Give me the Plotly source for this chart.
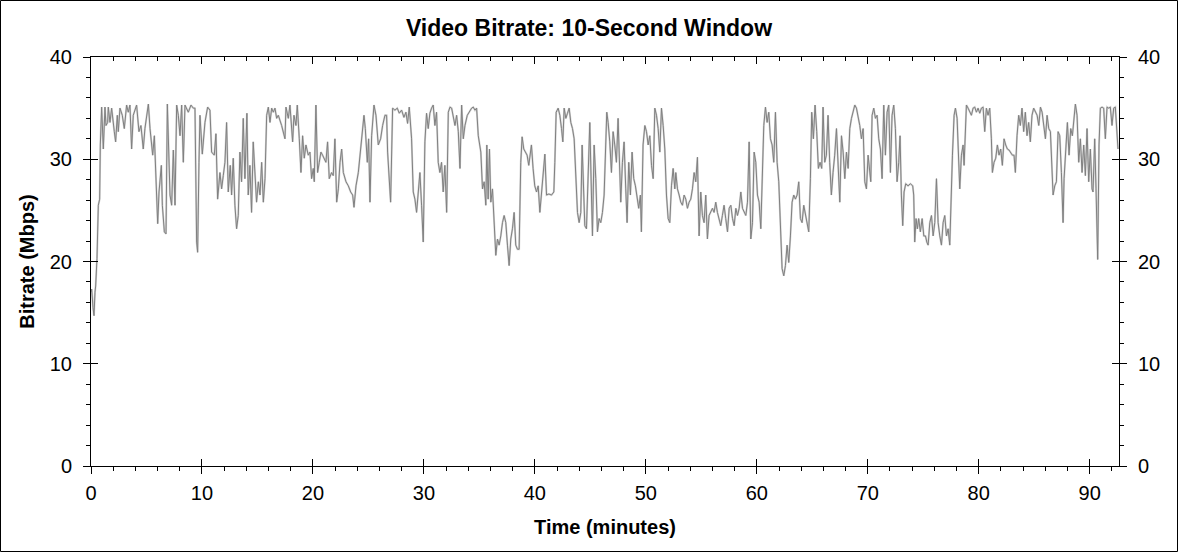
import plotly.graph_objects as go

# ---- data: (time in minutes, bitrate in Mbps) ----
seg_0_17 = [
    (0.0, 17.0), (0.06, 17.3), (0.18, 15.5), (0.27, 14.7), (0.36, 17.0), (0.42, 17.6), (0.54, 20.3),
    (0.60, 22.5), (0.66, 25.5), (0.78, 26.1), (0.84, 31.4), (0.96, 35.1), (1.11, 31.0), (1.26, 35.1),
    (1.35, 33.3), (1.50, 33.6), (1.56, 35.1), (1.71, 33.6), (1.86, 35.0), (2.10, 32.7), (2.22, 31.7),
    (2.37, 34.3), (2.46, 32.7), (2.61, 35.0), (2.82, 34.3), (3.00, 33.0), (3.21, 35.3), (3.36, 34.6),
    (3.51, 35.3), (3.66, 31.0), (3.81, 34.3), (4.11, 35.3), (4.32, 32.7), (4.50, 33.3), (4.71, 31.0),
    (4.86, 33.0), (5.17, 35.4), (5.32, 33.0), (5.56, 30.4), (5.71, 32.3), (5.86, 27.4), (6.01, 23.7),
    (6.13, 26.8), (6.34, 29.4), (6.43, 25.5), (6.61, 22.9), (6.76, 22.7), (6.88, 35.4), (7.12, 26.5),
    (7.27, 25.5), (7.42, 30.9), (7.57, 25.5), (7.72, 35.3), (7.87, 34.3), (8.02, 32.3), (8.17, 35.3),
    (8.32, 29.7), (8.47, 35.3), (8.77, 34.6), (9.01, 35.3), (9.22, 35.0), (9.37, 35.0), (9.52, 21.9),
    (9.61, 20.9), (9.73, 29.7), (9.82, 34.3), (10.03, 30.5), (10.27, 33.6), (10.51, 35.1), (10.72, 34.8),
    (10.87, 30.7), (11.11, 30.4), (11.26, 32.5), (11.41, 26.1), (11.62, 28.7), (11.77, 27.1), (11.92, 28.4),
    (12.07, 29.7), (12.22, 33.6), (12.37, 26.8), (12.55, 29.4), (12.67, 26.5), (12.82, 30.1), (12.97, 25.5),
    (13.12, 23.2), (13.27, 24.5), (13.42, 30.7), (13.57, 27.8), (13.72, 34.0), (13.87, 28.1), (14.05, 34.5),
    (14.17, 26.5), (14.32, 29.4), (14.47, 24.8), (14.62, 31.7), (14.77, 29.1), (14.92, 25.8), (15.08, 27.8),
    (15.23, 26.5), (15.38, 29.7), (15.53, 25.8), (15.68, 28.1), (15.83, 34.3), (15.98, 35.1), (16.13, 33.6),
    (16.28, 35.0), (16.43, 34.6), (16.58, 35.0), (16.73, 34.0), (16.88, 34.3), (17.18, 33.3), (17.48, 32.0),
]

seg_17_35 = [
    (17.57, 35.1), (17.78, 34.0), (17.93, 35.3), (18.17, 31.7), (18.29, 34.3), (18.47, 33.3), (18.59, 35.3),
    (18.77, 32.0), (18.92, 28.7), (19.07, 32.3), (19.22, 30.1), (19.37, 31.4), (19.58, 30.4), (19.73, 30.7),
    (19.88, 28.1), (20.03, 29.1), (20.12, 27.8), (20.27, 35.3), (20.42, 28.7), (20.57, 29.7), (20.72, 30.7),
    (20.87, 30.4), (21.02, 30.1), (21.17, 29.7), (21.32, 31.7), (21.47, 28.1), (21.68, 28.7), (21.83, 28.4),
    (21.98, 32.0), (22.14, 25.8), (22.29, 27.1), (22.44, 29.7), (22.59, 31.0), (22.74, 28.7), (22.98, 27.8),
    (23.19, 27.4), (23.40, 26.8), (23.58, 26.5), (23.70, 25.3), (23.88, 27.4), (24.09, 28.7), (24.30, 31.0),
    (24.48, 33.3), (24.60, 34.3), (24.72, 33.0), (24.90, 29.7), (25.02, 32.0), (25.14, 25.8), (25.29, 32.3),
    (25.50, 35.3), (25.68, 34.3), (25.89, 31.4), (26.10, 32.0), (26.28, 33.3), (26.49, 34.3), (26.64, 34.3),
    (26.73, 30.7), (26.85, 27.8), (27.00, 25.8), (27.18, 35.0), (27.39, 34.8), (27.60, 35.0), (27.78, 34.5),
    (27.99, 34.8), (28.20, 34.1), (28.38, 34.6), (28.53, 33.5), (28.68, 35.1), (28.89, 32.0), (29.04, 26.8),
    (29.19, 26.1), (29.34, 24.8), (29.49, 26.5), (29.64, 28.7), (29.79, 25.5), (29.94, 21.9), (30.09, 31.7),
    (30.24, 34.5), (30.39, 33.0), (30.54, 34.5), (30.69, 35.0), (30.84, 35.3), (30.99, 33.3), (31.14, 34.6),
    (31.29, 29.7), (31.44, 28.7), (31.59, 29.7), (31.74, 26.8), (31.89, 29.4), (32.05, 24.8), (32.20, 34.6),
    (32.35, 35.1), (32.50, 35.0), (32.65, 34.3), (32.80, 33.3), (32.95, 34.3), (33.10, 32.7), (33.25, 29.1),
    (33.40, 35.3), (33.55, 32.0), (33.70, 33.3), (33.91, 34.3), (34.09, 34.6), (34.30, 35.0), (34.45, 35.1),
    (34.60, 34.8), (34.75, 35.0), (34.90, 32.3),
]

seg_35_52 = [
    (35.13, 30.7), (35.28, 27.1), (35.43, 27.8), (35.58, 25.5), (35.67, 31.4), (35.79, 26.1), (35.91, 31.0),
    (36.03, 25.8), (36.18, 27.1), (36.33, 23.2), (36.48, 20.6), (36.63, 22.2), (36.78, 21.6), (36.93, 22.5),
    (37.08, 23.8), (37.23, 24.5), (37.38, 23.8), (37.53, 21.6), (37.68, 19.6), (37.83, 22.2), (37.98, 23.2),
    (38.13, 24.8), (38.28, 21.6), (38.43, 21.2), (38.58, 21.2), (38.73, 29.7), (38.85, 32.2), (39.00, 31.0),
    (39.15, 30.7), (39.30, 30.4), (39.45, 29.4), (39.60, 30.7), (39.69, 31.4), (39.84, 29.1), (39.99, 27.4),
    (40.15, 26.8), (40.30, 27.4), (40.45, 24.8), (40.60, 26.5), (40.75, 28.1), (40.90, 30.5), (41.05, 26.5),
    (41.26, 26.6), (41.50, 26.5), (41.71, 26.8), (41.80, 29.7), (41.92, 34.6), (42.10, 35.0), (42.25, 34.3),
    (42.40, 33.0), (42.52, 31.7), (42.64, 35.0), (42.79, 34.0), (42.94, 34.5), (43.09, 35.0), (43.24, 33.6),
    (43.39, 33.0), (43.54, 32.0), (43.69, 27.8), (43.84, 24.8), (43.99, 23.8), (44.14, 24.8), (44.26, 31.4),
    (44.38, 26.5), (44.50, 23.5), (44.65, 23.2), (44.80, 27.8), (44.95, 33.6), (45.10, 26.5), (45.19, 22.5),
    (45.34, 31.4), (45.49, 28.1), (45.64, 22.9), (45.79, 24.2), (45.94, 23.8), (46.09, 24.8), (46.24, 26.5),
    (46.36, 31.4), (46.48, 34.6), (46.60, 33.6), (46.75, 31.7), (46.90, 28.7), (47.05, 32.7), (47.20, 31.4),
    (47.35, 29.7), (47.50, 34.0), (47.65, 28.7), (47.74, 25.8), (47.89, 29.7), (48.04, 31.7), (48.19, 27.1),
    (48.31, 23.8), (48.46, 29.7), (48.61, 26.5), (48.76, 30.7), (48.91, 28.1), (49.06, 27.4), (49.21, 26.1),
    (49.36, 25.2), (49.51, 26.5), (49.60, 22.9), (49.75, 31.4), (49.91, 33.3), (50.06, 32.7), (50.21, 31.4),
    (50.36, 32.3), (50.51, 29.4), (50.66, 28.1), (50.81, 35.0), (50.96, 34.3), (51.11, 33.0), (51.26, 30.7),
    (51.41, 35.0), (51.56, 33.3), (51.71, 31.0), (51.86, 26.5), (52.01, 24.2), (52.16, 23.8), (52.31, 27.4),
    (52.46, 29.1), (52.61, 27.1),
]

seg_52_70 = [
    (52.70, 28.7), (52.85, 27.1), (53.00, 26.5), (53.15, 25.8), (53.30, 25.5), (53.45, 26.5), (53.60, 26.1),
    (53.75, 25.2), (53.90, 25.8), (54.05, 26.1), (54.20, 27.1), (54.35, 28.7), (54.50, 27.8), (54.65, 30.2),
    (54.80, 22.5), (54.95, 26.8), (55.10, 24.5), (55.25, 23.8), (55.40, 26.5), (55.55, 22.2), (55.70, 24.5),
    (55.85, 24.8), (56.00, 25.2), (56.15, 24.8), (56.30, 25.8), (56.45, 24.8), (56.60, 24.2), (56.75, 23.5),
    (56.90, 24.5), (57.05, 25.5), (57.20, 24.2), (57.36, 22.9), (57.51, 25.2), (57.66, 25.5), (57.81, 24.2),
    (57.96, 23.5), (58.11, 25.2), (58.26, 24.5), (58.41, 25.2), (58.56, 26.8), (58.71, 25.2), (58.86, 24.8),
    (59.01, 24.5), (59.16, 25.8), (59.31, 31.7), (59.46, 22.2), (59.61, 23.8), (59.76, 30.7), (59.91, 29.7),
    (60.06, 26.5), (60.21, 25.8), (60.36, 23.2), (60.51, 29.7), (60.63, 33.3), (60.78, 35.1), (60.93, 33.6),
    (61.08, 34.6), (61.23, 32.0), (61.38, 31.4), (61.53, 29.7), (61.68, 34.6), (61.83, 29.7), (61.98, 27.8),
    (62.13, 22.5), (62.28, 19.3), (62.43, 18.6), (62.58, 19.6), (62.73, 21.6), (62.88, 19.9), (63.03, 22.5),
    (63.18, 25.8), (63.33, 26.5), (63.48, 26.1), (63.63, 26.5), (63.78, 27.8), (63.93, 24.2), (64.08, 23.8),
    (64.23, 25.5), (64.38, 24.5), (64.53, 23.5), (64.68, 22.9), (64.83, 28.1), (64.95, 34.6), (65.10, 32.0),
    (65.25, 35.3), (65.40, 32.7), (65.55, 29.1), (65.70, 29.7), (65.85, 29.1), (65.97, 35.1), (66.12, 29.7),
    (66.27, 30.4), (66.42, 34.3), (66.57, 29.7), (66.72, 26.5), (66.87, 28.7), (67.02, 30.4), (67.18, 33.0),
    (67.33, 29.7), (67.48, 25.8), (67.63, 32.3), (67.78, 30.7), (67.93, 28.1), (68.08, 30.7), (68.23, 29.1),
    (68.38, 33.0), (68.53, 34.0), (68.68, 34.6), (68.83, 35.3), (68.98, 35.0), (69.13, 34.3), (69.28, 33.3),
    (69.43, 32.0), (69.58, 33.0), (69.73, 27.8), (69.88, 27.1), (70.03, 30.4), (70.18, 28.7),
]

seg_70_93 = [
    (70.27, 27.8), (70.39, 34.3), (70.54, 35.0), (70.69, 34.0), (70.84, 34.3), (70.99, 32.0), (71.14, 31.0),
    (71.29, 28.1), (71.44, 35.3), (71.59, 30.4), (71.74, 34.6), (71.89, 35.3), (72.04, 28.7), (72.19, 34.3),
    (72.34, 35.3), (72.49, 33.0), (72.64, 27.8), (72.79, 29.7), (72.91, 32.3), (73.03, 26.5), (73.15, 23.5),
    (73.27, 26.8), (73.42, 27.6), (73.63, 27.4), (73.84, 27.6), (74.05, 27.4), (74.14, 26.5), (74.23, 21.9),
    (74.35, 24.2), (74.47, 23.2), (74.59, 24.2), (74.74, 22.9), (74.90, 24.2), (75.05, 22.5), (75.20, 22.5),
    (75.32, 21.9), (75.44, 21.6), (75.59, 23.8), (75.74, 24.5), (75.89, 22.5), (76.04, 23.8), (76.19, 28.1),
    (76.34, 23.8), (76.49, 22.5), (76.64, 21.6), (76.79, 23.8), (76.94, 24.5), (77.09, 22.5), (77.24, 23.2),
    (77.39, 21.6), (77.48, 25.8), (77.63, 30.4), (77.78, 34.3), (77.90, 35.0), (78.05, 34.0), (78.20, 30.4),
    (78.29, 27.1), (78.44, 30.4), (78.59, 31.4), (78.68, 29.4), (78.80, 33.0), (78.89, 35.3), (79.04, 35.0),
    (79.19, 34.6), (79.34, 34.3), (79.49, 35.0), (79.64, 35.1), (79.79, 34.6), (79.94, 35.0), (80.09, 34.5),
    (80.24, 35.0), (80.39, 35.1), (80.54, 32.7), (80.69, 35.0), (80.84, 34.3), (80.99, 35.0), (81.14, 32.0),
    (81.23, 28.7), (81.38, 29.7), (81.53, 30.1), (81.68, 31.4), (81.83, 30.4), (81.98, 31.0), (82.13, 29.4),
    (82.28, 32.0), (82.43, 31.4), (82.58, 31.0), (82.73, 30.9), (82.88, 30.7), (83.03, 30.4), (83.18, 30.4),
    (83.30, 28.7), (83.45, 32.3), (83.60, 34.3), (83.75, 33.3), (83.90, 35.0), (84.05, 32.7), (84.20, 34.6),
    (84.35, 32.3), (84.50, 33.6), (84.65, 31.7), (84.80, 34.3), (84.95, 35.0), (85.11, 34.6), (85.26, 34.3),
    (85.41, 33.3), (85.56, 35.1), (85.71, 34.6), (85.86, 33.0), (86.01, 32.0), (86.16, 34.3), (86.31, 33.0),
    (86.46, 32.7), (86.55, 29.7), (86.70, 26.5), (86.85, 27.4), (87.00, 27.8), (87.15, 32.7), (87.30, 32.3),
    (87.45, 28.7), (87.60, 23.8), (87.69, 28.1), (87.84, 30.4), (87.99, 33.6), (88.14, 30.4), (88.29, 33.0),
    (88.44, 32.3), (88.59, 34.0), (88.71, 35.4), (88.86, 34.3), (89.01, 29.7), (89.16, 32.0), (89.31, 28.7),
    (89.46, 31.4), (89.61, 28.4), (89.76, 33.0), (89.91, 27.8), (90.06, 31.0), (90.21, 27.1), (90.30, 26.8),
    (90.45, 32.0), (90.57, 27.1), (90.66, 21.2), (90.72, 20.2), (90.84, 31.4), (90.96, 35.0), (91.11, 35.1),
    (91.26, 35.0), (91.41, 32.0), (91.56, 35.1), (91.71, 35.0), (91.86, 35.1), (92.01, 33.3), (92.16, 35.0),
    (92.31, 35.1), (92.46, 31.7), (92.55, 31.0),
]

x_ticks = [0, 10, 20, 30, 40, 50, 60, 70, 80, 90]
y_ticks = [0, 10, 20, 30, 40]
X_END = 92.64
Y_END = 40

points = seg_0_17 + seg_17_35 + seg_35_52 + seg_52_70 + seg_70_93
time_min = [p[0] for p in points]
bitrate = [p[1] for p in points]

FONT = "Liberation Sans, Arial, sans-serif"

fig = go.Figure()
# light halo under the line
fig.add_trace(go.Scatter(x=time_min, y=bitrate, mode="lines",
                         line=dict(color="#d4d4d4", width=2), hoverinfo="skip", showlegend=False))
fig.add_trace(go.Scatter(x=time_min, y=bitrate, mode="lines",
                         line=dict(color="#808080", width=1), showlegend=False, name="Video bitrate"))
# empty traces so overlay axes (for the tick styling) are drawn
fig.add_trace(go.Scatter(x=[], y=[], xaxis="x2", yaxis="y2", showlegend=False, hoverinfo="skip"))
fig.add_trace(go.Scatter(x=[], y=[], xaxis="x3", yaxis="y3", showlegend=False, hoverinfo="skip"))
fig.add_trace(go.Scatter(x=[], y=[], xaxis="x3", yaxis="y4", showlegend=False, hoverinfo="skip"))

common = dict(showgrid=False, zeroline=False, tickcolor="black", tickwidth=1, fixedrange=True)
TICKFONT = dict(size=20, family=FONT, color="black")

fig.update_layout(
    width=1178, height=552,
    margin=dict(l=91, r=59, t=57, b=86),
    paper_bgcolor="white", plot_bgcolor="white",
    font=dict(family=FONT, color="black"),
    showlegend=False,
    title=dict(text="<b>Video Bitrate: 10-Second Window</b>", x=0.5, xref="container",
               y=1 - 28 / 552, yref="container", yanchor="middle", xanchor="center",
               font=dict(size=23, family=FONT, color="black")),
    xaxis=dict(range=[0, X_END], tickmode="array", tickvals=x_ticks, ticktext=[str(v) for v in x_ticks],
               ticks="outside", ticklen=7, ticklabelstandoff=2,
               minor=dict(ticks="outside", ticklen=4, tick0=0, dtick=2, tickcolor="black"),
               showline=True, linecolor="black", linewidth=1,
               tickfont=TICKFONT,
               title=dict(text="<b>Time (minutes)</b>", font=dict(size=20, family=FONT, color="black"),
                          standoff=16),
               **common),
    xaxis2=dict(range=[0, X_END], overlaying="x", anchor="y", side="bottom", tickmode="array",
                tickvals=x_ticks, ticks="inside", ticklen=7, showticklabels=False, showline=False, **common),
    xaxis3=dict(range=[0, X_END], overlaying="x", anchor="y", side="top", tickmode="array",
                tickvals=x_ticks, ticks="inside", ticklen=7,
                minor=dict(ticks="inside", ticklen=4, tick0=0, dtick=2, tickcolor="black"),
                showticklabels=False, showline=True, linecolor="black", linewidth=1, **common),
    yaxis=dict(range=[0, Y_END], tickmode="array", tickvals=y_ticks, ticktext=[str(v) for v in y_ticks],
               ticks="outside", ticklen=7, ticklabelstandoff=7,
               minor=dict(ticks="outside", ticklen=4, tick0=0, dtick=2, tickcolor="black"),
               showline=True, linecolor="black", linewidth=1,
               tickfont=TICKFONT,
               title=dict(text="<b>Bitrate (Mbps)</b>", font=dict(size=20, family=FONT, color="black"),
                          standoff=9),
               **common),
    yaxis2=dict(range=[0, Y_END], overlaying="y", anchor="x", side="left", tickmode="array",
                tickvals=y_ticks, ticks="inside", ticklen=7, showticklabels=False, showline=False, **common),
    yaxis3=dict(range=[0, Y_END], overlaying="y", anchor="x", side="right", tickmode="array",
                tickvals=y_ticks, ticktext=[str(v) for v in y_ticks], ticks="outside", ticklen=7,
                ticklabelstandoff=7,
                minor=dict(ticks="outside", ticklen=4, tick0=0, dtick=2, tickcolor="black"),
                showline=True, linecolor="black", linewidth=1,
                tickfont=TICKFONT, **common),
    yaxis4=dict(range=[0, Y_END], overlaying="y", anchor="x", side="right", tickmode="array",
                tickvals=y_ticks, ticks="inside", ticklen=7, showticklabels=False, showline=False, **common),
    shapes=[dict(type="rect", xref="paper", yref="paper",
                 x0=(0.5 - 91) / 1028, x1=(1177.5 - 91) / 1028,
                 y0=(466 - 551.5) / 409, y1=(466 - 0.5) / 409,
                 line=dict(color="black", width=1), fillcolor="rgba(0,0,0,0)", layer="above")],
)

fig.write_html("out.html", config={"displayModeBar": False},
               post_script="document.body.style.margin='0';document.body.style.overflow='hidden';")
